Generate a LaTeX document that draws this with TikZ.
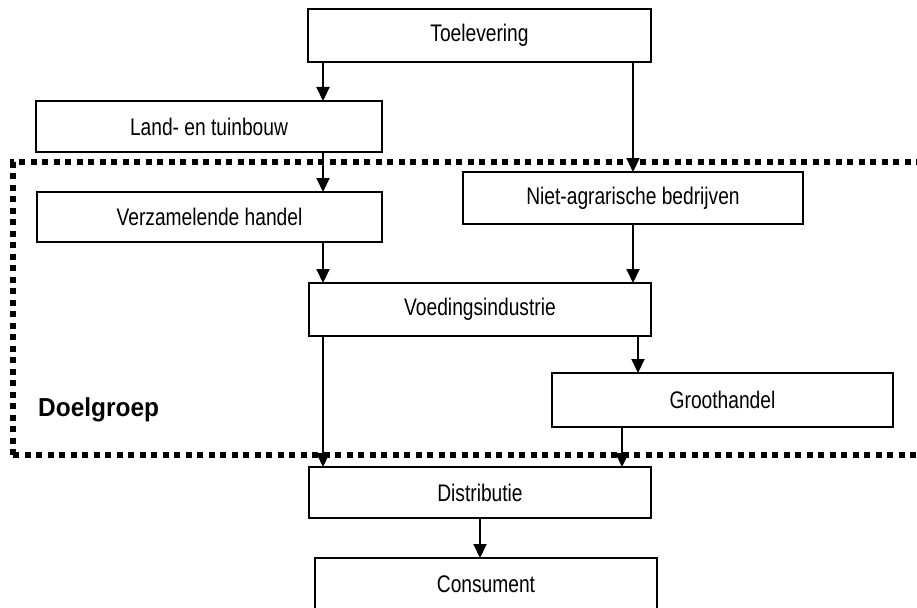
\documentclass[tikz,border=0pt]{standalone}
\usepackage{fontspec}
\setmainfont{Liberation Sans}
\usepackage{graphicx}
\usetikzlibrary{arrows.meta}
\newcommand\boxtxt[1]{\scalebox{0.8}[1]{#1}}
\begin{document}
\begin{tikzpicture}[x=1pt,y=-1pt,
  fbox/.style={draw=black, line width=2pt, fill=white, inner sep=0pt, outer sep=0pt, font=\fontsize{24}{28}\selectfont},
  arr/.style={line width=2pt, -{Triangle[length=14pt,width=13pt]}},
  frame/.style={line width=6pt, line cap=butt, dash pattern=on 6pt off 5.5pt}]
\clip (0,0) rectangle (917,607);
\fill[white] (0,0) rectangle (917,607);
% dotted frame of the target group
\draw[frame] (13,455) -- (13,162) -- (935,162);
\draw[frame] (13,455) -- (935,455);
% column coordinates
\coordinate (cA) at (323,0);
\coordinate (cB) at (633,0);
\coordinate (cC) at (638,0);
\coordinate (cD) at (622,0);
\coordinate (cE) at (480,0);
% boxes
\node[fbox, minimum width=343, minimum height=53] (toel) at (479.5,35.5) {\boxtxt{Toelevering}};
\node[fbox, minimum width=346, minimum height=51] (land) at (209,126.5) {\boxtxt{Land- en tuinbouw}};
\node[fbox, minimum width=345, minimum height=50] (verz) at (209.5,217) {\boxtxt{Verzamelende handel}};
\node[fbox, minimum width=340, minimum height=52] (niet) at (633,198) {\boxtxt{Niet-agrarische bedrijven}};
\node[fbox, minimum width=342, minimum height=53] (voed) at (480,309.5) {\boxtxt{Voedingsindustrie}};
\node[fbox, minimum width=341, minimum height=54] (groot) at (722.5,400) {\boxtxt{Groothandel}};
\node[fbox, minimum width=342, minimum height=51] (distr) at (480,492.5) {\boxtxt{Distributie}};
\node[fbox, minimum width=342, minimum height=53] (cons) at (486,584.5) {\boxtxt{Consument}};
\node[anchor=base west, inner sep=0pt, font=\bfseries\fontsize{26}{30}\selectfont] (doel) at (38,416) {\scalebox{0.94}[1]{Doelgroep}};
% connectors
\draw[arr] (cA |- toel.south) -- (cA |- land.north);
\draw[arr] (cB |- toel.south) -- (cB |- niet.north);
\draw[arr] (cA |- land.south) -- (cA |- verz.north);
\draw[arr] (cA |- verz.south) -- (cA |- voed.north);
\draw[arr] (cB |- niet.south) -- (cB |- voed.north);
\draw[arr] (cA |- voed.south) -- (cA |- distr.north);
\draw[arr] (cC |- voed.south) -- (cC |- groot.north);
\draw[arr] (cD |- groot.south) -- (cD |- distr.north);
\draw[arr] (cE |- distr.south) -- (cE |- cons.north);
\end{tikzpicture}
\end{document}
